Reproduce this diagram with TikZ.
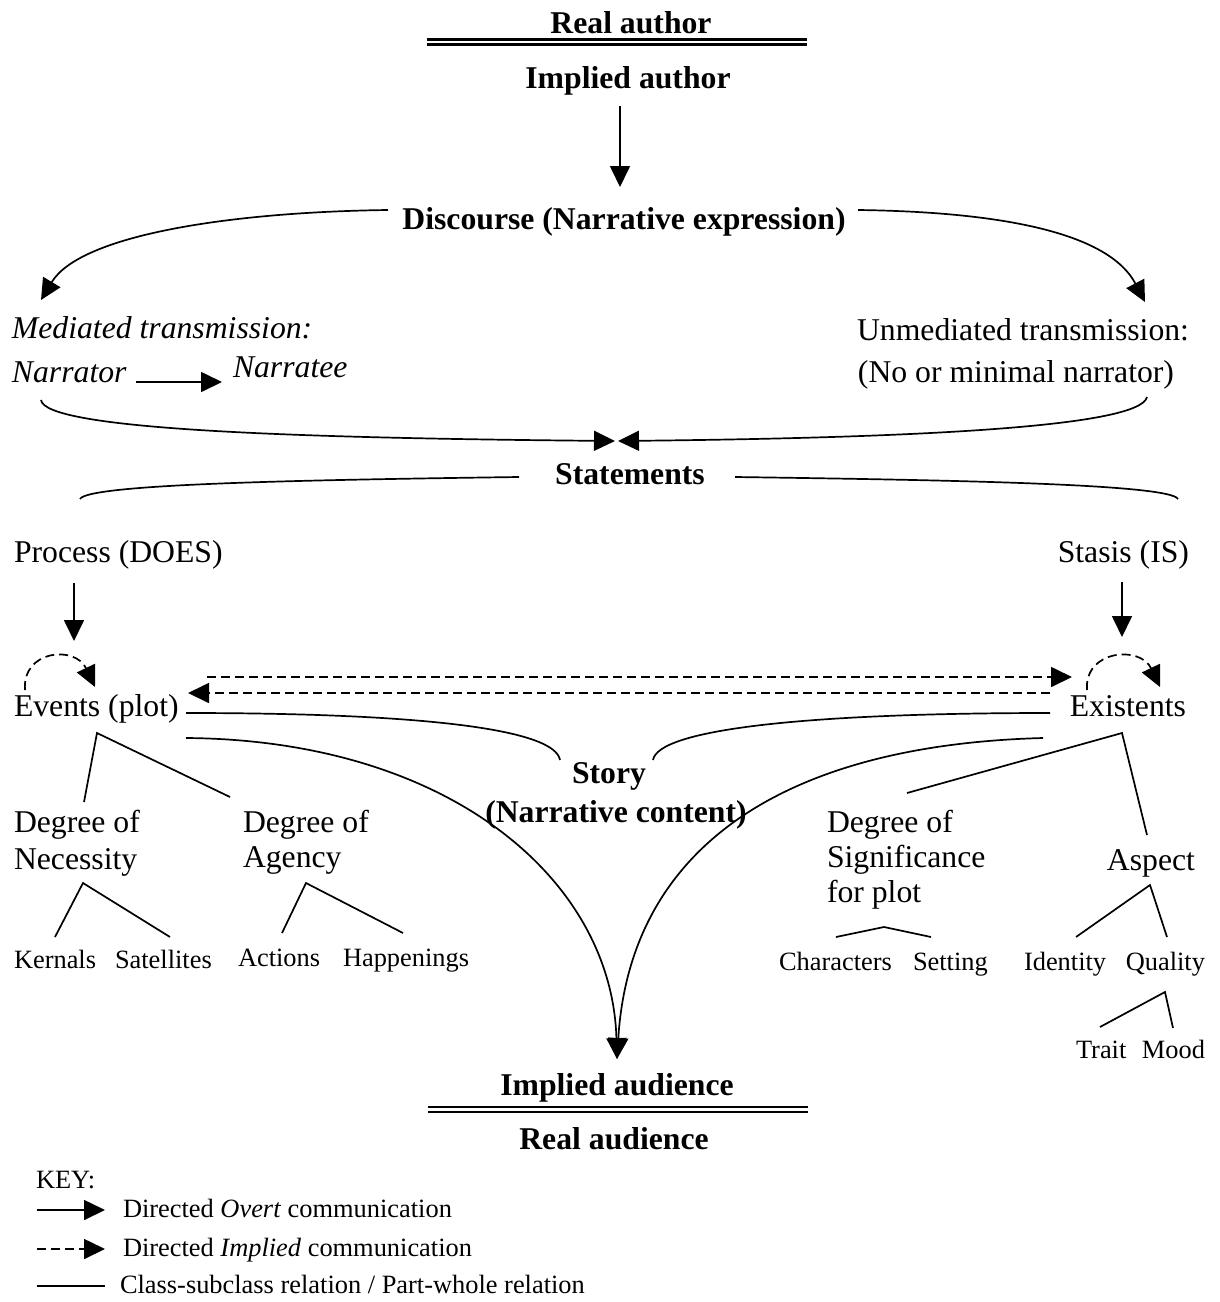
\documentclass[tikz,border=0pt]{standalone}
\usepackage{fontspec}
\setmainfont{Liberation Serif}
\usetikzlibrary{arrows.meta}
\begin{document}
\begin{tikzpicture}[x=1pt,y=-1pt,
  txt/.style={inner sep=0pt, outer sep=0pt, font=\fontsize{31.7}{36}\selectfont},
  head/.style={inner sep=0pt, outer sep=0pt, font=\fontsize{31.7}{36}\selectfont\bfseries},
  leaf/.style={inner sep=0pt, outer sep=0pt, font=\fontsize{26.4}{30}\selectfont},
  rel/.style={line width=1.7pt},
  overt/.style={rel, -{Triangle[length=21pt,width=20pt]}},
  implied/.style={overt, dash pattern=on 9pt off 5pt},
  rule/.style={line width=2.3pt}]
\useasboundingbox (0,0) rectangle (1219,1302);

% ---------- author side ----------
\node[head, anchor=base] (ra) at (631,33) {Real author};
\coordinate (raL) at (427,39.5); \coordinate (raR) at (807,39.5);
\coordinate (raL2) at (427,44.5); \coordinate (raR2) at (807,44.5);
\draw[rule] (raL) -- (raR);
\draw[rule] (raL2) -- (raR2);
\node[head, anchor=base] (ia) at (628,88) {Implied author};
\node[head, anchor=base] (disc) at (624,229) {Discourse (Narrative expression)};
\coordinate (iaOut) at (620,106);
\coordinate (discIn) at (620,187);
\draw[overt] (iaOut) -- (discIn);

% ---------- transmission ----------
\node[txt, anchor=base west] (med) at (12,338) {\itshape Mediated transmission:};
\node[txt, anchor=base west] (nar) at (12,382) {\itshape Narrator};
\node[txt, anchor=base west] (nee) at (233,377) {\itshape Narratee};
\node[txt, anchor=base east] (unm) at (1189,340) {Unmediated transmission:};
\node[txt, anchor=base east] (unm2) at (1174,382) {(No or minimal narrator)};
\coordinate (discL) at (388,210);
\coordinate (discR) at (858,210);
\coordinate (medIn) at (41,300);
\coordinate (unmIn) at (1145,302);
\draw[overt] (discL) .. controls (230,212) and (80,235) .. (medIn);
\draw[overt] (discR) .. controls (1010,212) and (1110,235) .. (unmIn);
\coordinate (narOut) at (136,382);
\coordinate (neeIn) at (222,382);
\draw[overt] (narOut) -- (neeIn);

% ---------- statements ----------
\node[head, anchor=base] (st) at (630,484) {Statements};
\coordinate (narDown) at (41,400);
\coordinate (unmDown) at (1147,397);
\coordinate (stInL) at (615,441);
\coordinate (stInR) at (618,441);
\draw[overt] (narDown) .. controls (45,430) and (300,438) .. (stInL);
\draw[overt] (unmDown) .. controls (1140,428) and (900,438) .. (stInR);
\coordinate (stL) at (519,477);
\coordinate (stR) at (735,477);
\coordinate (procUp) at (80,499);
\coordinate (stasUp) at (1178,499);
\draw[rel] (stL) .. controls (300,480) and (88,484) .. (procUp);
\draw[rel] (stR) .. controls (950,480) and (1170,484) .. (stasUp);

% ---------- process / stasis ----------
\node[txt, anchor=base west] (proc) at (14,562) {Process (DOES)};
\node[txt, anchor=base east] (stas) at (1189,562) {Stasis (IS)};
\node[txt, anchor=base west] (ev) at (14,716) {Events (plot)};
\node[txt, anchor=base east] (ex) at (1186,716) {Existents};
\coordinate (procOut) at (74,583); \coordinate (evIn) at (74,641);
\coordinate (stasOut) at (1122,582); \coordinate (exIn) at (1122,637);
\draw[overt] (procOut) -- (evIn);
\draw[overt] (stasOut) -- (exIn);

% self-reference loops
\coordinate (evLa) at (25,690); \coordinate (evLb) at (95,687);
\coordinate (exLa) at (1087,690); \coordinate (exLb) at (1160,687);
\draw[implied] (evLa) .. controls (22,650) and (75,645) .. (evLb);
\draw[implied] (exLa) .. controls (1084,650) and (1140,645) .. (exLb);

% events <-> existents
\coordinate (evTop) at (207,677); \coordinate (exTop) at (1072,677);
\coordinate (exBot) at (1050,693); \coordinate (evBot) at (188,693);
\draw[implied] (evTop) -- (exTop);
\draw[implied] (exBot) -- (evBot);

% ---------- story ----------
\node[head, anchor=base] (story) at (609,783) {Story};
\node[head, anchor=base] (story2) at (616,822) {(Narrative content)};
\coordinate (evR1) at (186,713); \coordinate (exL1) at (1050,713);
\coordinate (stoL) at (560,760); \coordinate (stoR) at (653,760);
\draw[rel] (evR1) .. controls (430,713) and (555,730) .. (stoL);
\draw[rel] (exL1) .. controls (800,713) and (658,730) .. (stoR);

% ---------- audience ----------
\node[head, anchor=base] (iau) at (617,1095) {Implied audience};
\node[head, anchor=base] (rau) at (614,1149) {Real audience};
\coordinate (evR2) at (186,738); \coordinate (exL2) at (1043,738);
\coordinate (iauIn) at (617,1059);
\draw[overt] (evR2) .. controls (450,740) and (612,880) .. (iauIn);
\draw[overt] (exL2) .. controls (780,745) and (630,850) .. (iauIn);
\coordinate (iaL) at (428,1107); \coordinate (iaR) at (808,1107);
\coordinate (iaL2) at (428,1112); \coordinate (iaR2) at (808,1112);
\draw[rule] (iaL) -- (iaR);
\draw[rule] (iaL2) -- (iaR2);

% ---------- event subclasses ----------
\node[txt, anchor=base west] (nec1) at (14,832) {Degree of};
\node[txt, anchor=base west] (nec2) at (14,869) {Necessity};
\node[txt, anchor=base west] (ag1) at (243,832) {Degree of};
\node[txt, anchor=base west] (ag2) at (243,867) {Agency};
\coordinate (evT) at (97,733);
\coordinate (necT) at (84,802); \coordinate (agT) at (230,797);
\draw[rel] (necT) -- (evT) -- (agT);

\node[leaf, anchor=base west] (ker) at (14,968) {Kernals};
\node[leaf, anchor=base west] (sat) at (115,968) {Satellites};
\node[leaf, anchor=base west] (act) at (238,966) {Actions};
\node[leaf, anchor=base west] (hap) at (343,966) {Happenings};
\coordinate (necB) at (83,883);
\coordinate (kerT) at (55,937); \coordinate (satT) at (170,937);
\draw[rel] (kerT) -- (necB) -- (satT);
\coordinate (agB) at (306,883);
\coordinate (actT) at (282,933); \coordinate (hapT) at (403,933);
\draw[rel] (actT) -- (agB) -- (hapT);

% ---------- existent subclasses ----------
\node[txt, anchor=base west] (sig1) at (827,832) {Degree of};
\node[txt, anchor=base west] (sig2) at (827,867) {Significance};
\node[txt, anchor=base west] (sig3) at (827,902) {for plot};
\node[txt, anchor=base east] (asp) at (1195,870) {Aspect};
\coordinate (exT) at (1122,733);
\coordinate (sigT) at (907,793); \coordinate (aspT) at (1147,835);
\draw[rel] (sigT) -- (exT) -- (aspT);

\node[leaf, anchor=base west] (cha) at (779,970) {Characters};
\node[leaf, anchor=base west] (set) at (913,970) {Setting};
\node[leaf, anchor=base west] (idn) at (1024,970) {Identity};
\node[leaf, anchor=base east] (qua) at (1205,970) {Quality};
\coordinate (sigB) at (884,927);
\coordinate (chaT) at (836,937); \coordinate (setT) at (931,937);
\draw[rel] (chaT) -- (sigB) -- (setT);
\coordinate (aspB) at (1150,885);
\coordinate (idnT) at (1076,937); \coordinate (quaT) at (1167,937);
\draw[rel] (idnT) -- (aspB) -- (quaT);

\node[leaf, anchor=base west] (tra) at (1076,1058) {Trait};
\node[leaf, anchor=base east] (moo) at (1205,1058) {Mood};
\coordinate (quaB) at (1165,992);
\coordinate (traT) at (1100,1027); \coordinate (mooT) at (1173,1028);
\draw[rel] (traT) -- (quaB) -- (mooT);

% ---------- key ----------
\node[leaf, anchor=base west] (key) at (36,1188) {KEY:};
\node[leaf, anchor=base west] (k1) at (123,1217) {Directed \textit{Overt} communication};
\node[leaf, anchor=base west] (k2) at (123,1256) {Directed \textit{Implied} communication};
\node[leaf, anchor=base west] (k3) at (120,1293) {Class-subclass relation / Part-whole relation};
\coordinate (k1a) at (37,1210); \coordinate (k1b) at (105,1210);
\coordinate (k2a) at (37,1249); \coordinate (k2b) at (105,1249);
\coordinate (k3a) at (37,1286); \coordinate (k3b) at (105,1286);
\draw[overt] (k1a) -- (k1b);
\draw[implied] (k2a) -- (k2b);
\draw[rel] (k3a) -- (k3b);
\end{tikzpicture}
\end{document}
